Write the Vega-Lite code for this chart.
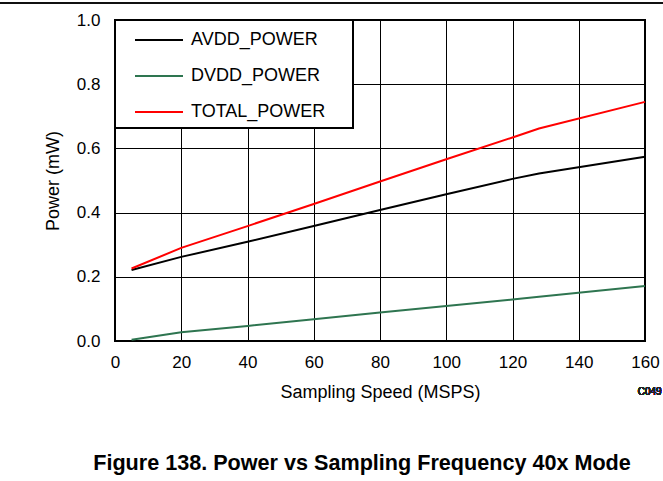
{
  "$schema": "https://vega.github.io/schema/vega-lite/v6.json",
  "width": 530,
  "height": 321,
  "autosize": "none",
  "padding": {"left": 115, "top": 20, "right": 18, "bottom": 140},
  "background": "white",
  "config": {
    "font": "Liberation Sans",
    "view": {"stroke": "black", "strokeWidth": 2},
    "axis": {"gridColor": "black", "gridOpacity": 1, "gridWidth": 1, "domain": false, "ticks": false, "labelFlush": false, "labelOverlap": false, "labelColor": "black", "labelFontSize": 17, "titleFontSize": 18, "titleFontWeight": "normal", "titleColor": "black", "labelFont": "Liberation Sans", "titleFont": "Liberation Sans"}
  },
  "title": {"text": "Figure 138. Power vs Sampling Frequency 40x Mode", "orient": "bottom", "anchor": "middle", "fontSize": 21.6, "fontWeight": "bold", "color": "black", "font": "Liberation Sans", "offset": 52, "dx": -18},
  "data": {"values": [
    {"speed": 5, "power": 0.221, "series": "AVDD_POWER"},
    {"speed": 20, "power": 0.262, "series": "AVDD_POWER"},
    {"speed": 40, "power": 0.309, "series": "AVDD_POWER"},
    {"speed": 60, "power": 0.358, "series": "AVDD_POWER"},
    {"speed": 80, "power": 0.408, "series": "AVDD_POWER"},
    {"speed": 100, "power": 0.457, "series": "AVDD_POWER"},
    {"speed": 120, "power": 0.505, "series": "AVDD_POWER"},
    {"speed": 128, "power": 0.522, "series": "AVDD_POWER"},
    {"speed": 160, "power": 0.574, "series": "AVDD_POWER"},
    {"speed": 5, "power": 0.004, "series": "DVDD_POWER"},
    {"speed": 20, "power": 0.027, "series": "DVDD_POWER"},
    {"speed": 40, "power": 0.047, "series": "DVDD_POWER"},
    {"speed": 60, "power": 0.068, "series": "DVDD_POWER"},
    {"speed": 80, "power": 0.089, "series": "DVDD_POWER"},
    {"speed": 100, "power": 0.109, "series": "DVDD_POWER"},
    {"speed": 120, "power": 0.129, "series": "DVDD_POWER"},
    {"speed": 128, "power": 0.138, "series": "DVDD_POWER"},
    {"speed": 160, "power": 0.171, "series": "DVDD_POWER"},
    {"speed": 5, "power": 0.226, "series": "TOTAL_POWER"},
    {"speed": 20, "power": 0.29, "series": "TOTAL_POWER"},
    {"speed": 40, "power": 0.358, "series": "TOTAL_POWER"},
    {"speed": 60, "power": 0.427, "series": "TOTAL_POWER"},
    {"speed": 80, "power": 0.497, "series": "TOTAL_POWER"},
    {"speed": 100, "power": 0.566, "series": "TOTAL_POWER"},
    {"speed": 120, "power": 0.634, "series": "TOTAL_POWER"},
    {"speed": 128, "power": 0.662, "series": "TOTAL_POWER"},
    {"speed": 160, "power": 0.745, "series": "TOTAL_POWER"}
  ]},
  "layer": [
    {
      "mark": {"type": "line", "strokeWidth": 2},
      "encoding": {
        "x": {"field": "speed", "type": "quantitative", "scale": {"domain": [0, 160], "nice": false}, "axis": {"values": [0, 20, 40, 60, 80, 100, 120, 140, 160], "title": "Sampling Speed (MSPS)", "labelPadding": 13, "titlePadding": 13}},
        "y": {"field": "power", "type": "quantitative", "scale": {"domain": [0, 1], "nice": false}, "axis": {"values": [0, 0.2, 0.4, 0.6, 0.8, 1.0], "format": ".1f", "title": "Power (mW)", "labelPadding": 15, "titlePadding": 14}},
        "color": {"field": "series", "type": "nominal", "scale": {"domain": ["AVDD_POWER", "DVDD_POWER", "TOTAL_POWER"], "range": ["black", "#2e7550", "#ff0000"]},
          "legend": {"title": ".", "titleOrient": "right", "titleColor": "white", "titleFontSize": 2, "titlePadding": 20, "orient": "top-left", "offset": 0, "fillColor": "white", "strokeColor": "black", "padding": 7, "symbolType": "M0,0H4", "symbolSize": 576, "symbolStrokeWidth": 2, "labelFontSize": 18, "labelColor": "black", "labelFont": "Liberation Sans", "rowPadding": 14, "labelOffset": 43, "labelLimit": 400,
            "encode": {"legend": {"update": {"strokeWidth": {"value": 2}}}}}
        }
      }
    },
    {
      "mark": {"type": "rule", "color": "#111111", "strokeWidth": 1.5, "clip": false},
      "encoding": {
        "x": {"datum": -34.8, "type": "quantitative"},
        "x2": {"datum": 165.5},
        "y": {"datum": 1.053, "type": "quantitative"}
      }
    },
    {
      "mark": {"type": "text", "align": "right", "baseline": "middle", "fontSize": 10, "color": "#222222", "clip": false},
      "encoding": {
        "x": {"datum": 165, "type": "quantitative"},
        "y": {"datum": -0.16, "type": "quantitative"},
        "text": {"value": "C049"}
      }
    }
  ]
}
